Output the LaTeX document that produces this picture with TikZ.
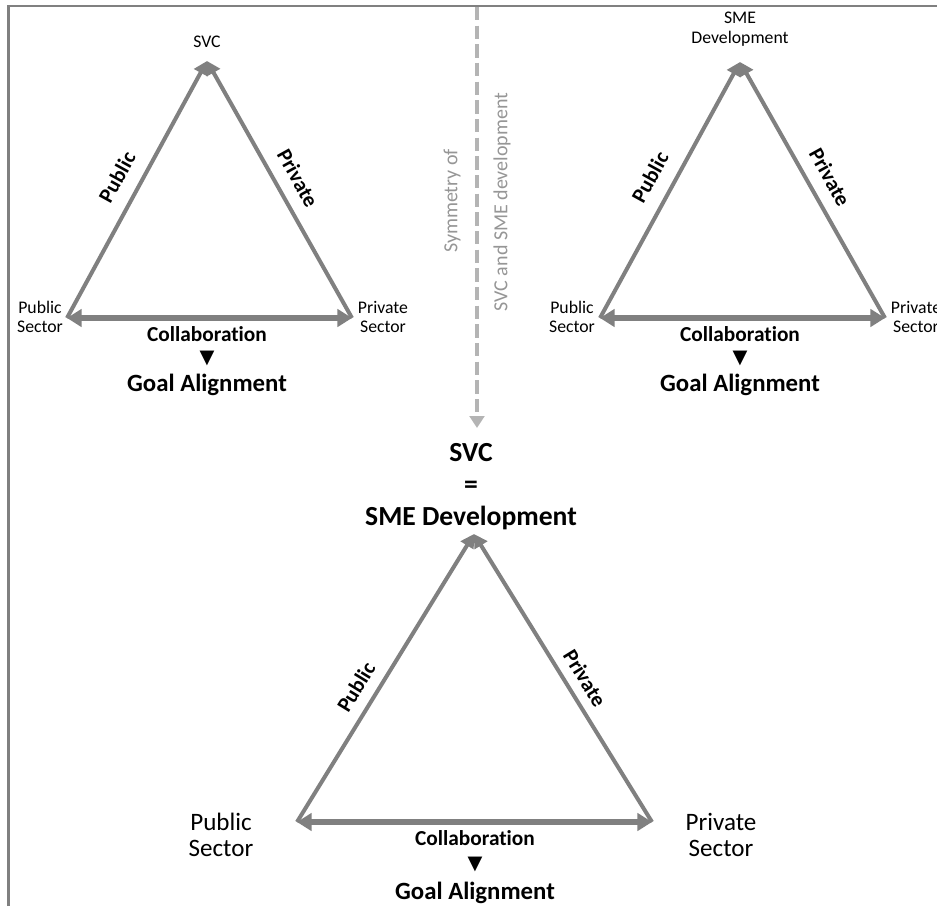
\documentclass[tikz,border=0pt]{standalone}
\usepackage{fontspec}
\setmainfont{Carlito}[Ligatures=NoCommon]
\newfontfamily\symfont{DejaVu Sans}
\usetikzlibrary{arrows.meta}

\definecolor{edgegray}{RGB}{128,128,128}
\definecolor{dashgray}{RGB}{180,180,180}
\definecolor{notegray}{RGB}{150,150,150}

\tikzset{
  % one px of the layout grid is 0.75pt, y grows downwards
  side/.style={draw=edgegray, line width=3pt, -{Triangle[length=10pt,width=11pt]}},
  base/.style={draw=edgegray, line width=4.2pt,
    {Triangle[length=11pt,width=13pt]}-{Triangle[length=11pt,width=13pt]}},
  corner/.style={inner sep=0pt, align=center, font={\fontsize{13.3}{14.6}\selectfont}},
  bigcorner/.style={inner sep=0pt, align=center, font={\fontsize{18.8}{19.6}\selectfont}},
  sidelabel/.style={inner sep=0pt, font={\bfseries\fontsize{16}{18}\selectfont}},
  collablabel/.style={inner sep=0pt, font={\bfseries\fontsize{16}{18}\selectfont}},
  pointer/.style={inner sep=0pt, font={\symfont\fontsize{14.5}{15}\selectfont}},
  goallabel/.style={inner sep=0pt, font={\bfseries\fontsize{18.6}{20}\selectfont}},
  headline/.style={inner sep=0pt, font={\bfseries\fontsize{20.7}{22}\selectfont}},
  note/.style={inner sep=0pt, text=notegray, rotate=90, font={\fontsize{15}{17}\selectfont}},
}

\begin{document}
\begin{tikzpicture}[x=0.75pt, y=-0.75pt]
  \useasboundingbox (0,0) rectangle (937,906);
  \fill[white] (0,0) rectangle (937,906);
  \clip (0,0) rectangle (937,906);

  % frame (left and top edges)
  \draw[edgegray, line width=1.7pt] (8.5,906) -- (8.5,6) -- (937,6);

  % ---------- left triangle: SVC ----------
  \coordinate (a1) at (207,61);
  \coordinate (l1) at (67,318);
  \coordinate (r1) at (352,318);
  \draw[side] (l1) -- (a1);
  \draw[side] (r1) -- (a1);
  \draw[base] (l1) -- (r1);
  \node[corner] (top1) at (207,42) {SVC};
  \node[corner] (pub1) at (40,317) {Public\\Sector};
  \node[corner] (pri1) at (383,317) {Private\\Sector};
  \node[sidelabel, rotate=61] (publbl1) at (117,177) {Public};
  \node[sidelabel, rotate=-61] (prilbl1) at (298,178) {Private};
  \node[collablabel] (col1) at (207,334) {Collaboration};
  \node[pointer] (tri1) at (207,358) {▼};
  \node[goallabel] (goal1) at (207,385) {Goal Alignment};

  % ---------- right triangle: SME development ----------
  \coordinate (a2) at (740,62);
  \coordinate (l2) at (600,318);
  \coordinate (r2) at (885,318);
  \draw[side] (l2) -- (a2);
  \draw[side] (r2) -- (a2);
  \draw[base] (l2) -- (r2);
  \node[corner] (top2) at (740,29) {SME\\Development};
  \node[corner] (pub2) at (572,317) {Public\\Sector};
  \node[corner] (pri2) at (916,317) {Private\\Sector};
  \node[sidelabel, rotate=61] (publbl2) at (650,177) {Public};
  \node[sidelabel, rotate=-61] (prilbl2) at (830,177) {Private};
  \node[collablabel] (col2) at (740,334) {Collaboration};
  \node[pointer] (tri2) at (740,358) {▼};
  \node[goallabel] (goal2) at (740,385) {Goal Alignment};

  % ---------- symmetry arrow ----------
  \coordinate (symtop) at (477,7);
  \coordinate (symbot) at (477,428);
  \draw[draw=dashgray, line width=3pt, dash pattern=on 10pt off 4pt,
        -{Triangle[length=9pt,width=11pt]}] (symtop) -- (symbot);
  \node[note] (sym1) at (452,201) {Symmetry of};
  \node[note] (sym2) at (502,202) {SVC and SME development};

  % ---------- bottom triangle: SVC = SME development ----------
  \coordinate (a3) at (474,534);
  \coordinate (l3) at (297,822);
  \coordinate (r3) at (652,822);
  \draw[side] (l3) -- (a3);
  \draw[side] (r3) -- (a3);
  \draw[base] (l3) -- (r3);
  \node[headline] (h1) at (471,453) {SVC};
  \node[headline] (h2) at (471,487) {=};
  \node[headline] (h3) at (471,518) {SME Development};
  \node[bigcorner] (pub3) at (221,835) {Public\\Sector};
  \node[bigcorner] (pri3) at (721,835) {Private\\Sector};
  \node[sidelabel, rotate=58.5] (publbl3) at (356,687) {Public};
  \node[sidelabel, rotate=-58.5] (prilbl3) at (585,678) {Private};
  \node[collablabel] (col3) at (475,838) {Collaboration};
  \node[pointer] (tri3) at (475,864) {▼};
  \node[goallabel] (goal3) at (475,893) {Goal Alignment};
\end{tikzpicture}
\end{document}
